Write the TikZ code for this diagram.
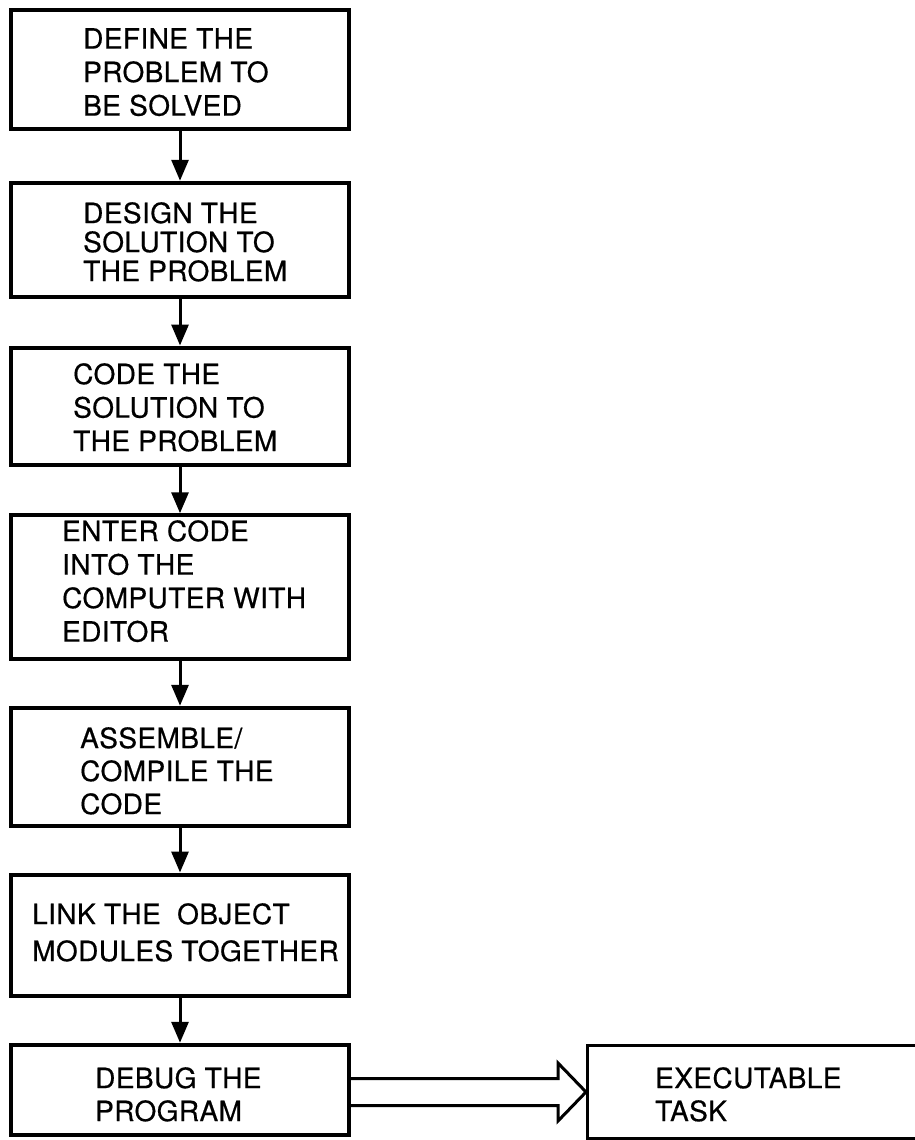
\documentclass[tikz,border=0pt]{standalone}
\usepackage{fontspec}
\setmainfont{TeX Gyre Heros}[FakeBold=0.5, LetterSpace=1.5]
\usetikzlibrary{arrows.meta,calc}

\tikzset{
  stepbox/.style={draw, line width=4pt, rectangle, inner sep=0pt, minimum width=338pt},
  taskbox/.style={draw, line width=3pt, rectangle, inner sep=0pt},
  steptext/.style={anchor=north west, inner sep=0pt, align=left,
                   font=\fontsize{28}{33.5}\selectfont},
  flow/.style={line width=3pt, -{Triangle[width=17pt,length=21pt]}},
  hollow/.style={line width=3pt, line join=miter},
}

\begin{document}
\begin{tikzpicture}[x=1pt,y=-1pt]
  \useasboundingbox (0,0) rectangle (915,1140);

  % the seven stages of the program development cycle
  \node[stepbox, minimum height=119pt]   (b1) at (180,69.5) {};
  \node[stepbox, minimum height=114.5pt] (b2) at (180,240) {};
  \node[stepbox, minimum height=117pt]   (b3) at (180,406) {};
  \node[stepbox, minimum height=143.5pt] (b4) at (180,587) {};
  \node[stepbox, minimum height=118.5pt] (b5) at (180,767) {};
  \node[stepbox, minimum height=121pt]   (b6) at (180,935) {};
  \node[stepbox, minimum height=90.5pt]  (b7) at (180,1090) {};

  % resulting task, running off the right edge
  \node[taskbox, minimum width=362.5pt, minimum height=92.5pt] (exec) at (768.75,1092) {};

  % stage labels
  \node[steptext] (l1) at (83,28)   {DEFINE THE\\PROBLEM TO\\BE SOLVED};
  \node[steptext, font=\fontsize{28}{29}\selectfont]
                  (l2) at (83,202)  {DESIGN THE\\SOLUTION TO\\THE PROBLEM};
  \node[steptext] (l3) at (73,363)  {CODE THE\\SOLUTION TO\\THE PROBLEM};
  \node[steptext] (l4) at (62,520)  {ENTER CODE\\INTO THE\\COMPUTER WITH\\EDITOR};
  \node[steptext, font=\fontsize{28}{33}\selectfont]
                  (l5) at (80,727)  {ASSEMBLE/\\COMPILE THE\\CODE};
  \node[steptext, font=\fontsize{28}{37}\selectfont]
                  (l6) at (32,903)  {LINK THE \ OBJECT\\MODULES TOGETHER};
  \node[steptext, font=\fontsize{28}{33}\selectfont]
                  (l7) at (95,1067) {DEBUG THE\\PROGRAM};
  \node[steptext, font=\fontsize{28}{33}\selectfont]
                  (lx) at (655,1067) {EXECUTABLE\\TASK};

  % flow between stages
  \foreach \a/\b in {b1/b2,b2/b3,b3/b4,b4/b5,b5/b6,b6/b7}
    \draw[flow] (\a.south) -- (\b.north);

  % broad open arrow to the executable task
  \coordinate (tip) at (exec.west);
  \draw[hollow]
    ($(b7.east |- tip)+(0,-13.5)$) -- ($(tip)+(-28,-13.5)$) -- ($(tip)+(-28,-29)$)
    -- (tip)
    -- ($(tip)+(-28,29)$) -- ($(tip)+(-28,13.5)$) -- ($(b7.east |- tip)+(0,13.5)$);
\end{tikzpicture}
\end{document}
